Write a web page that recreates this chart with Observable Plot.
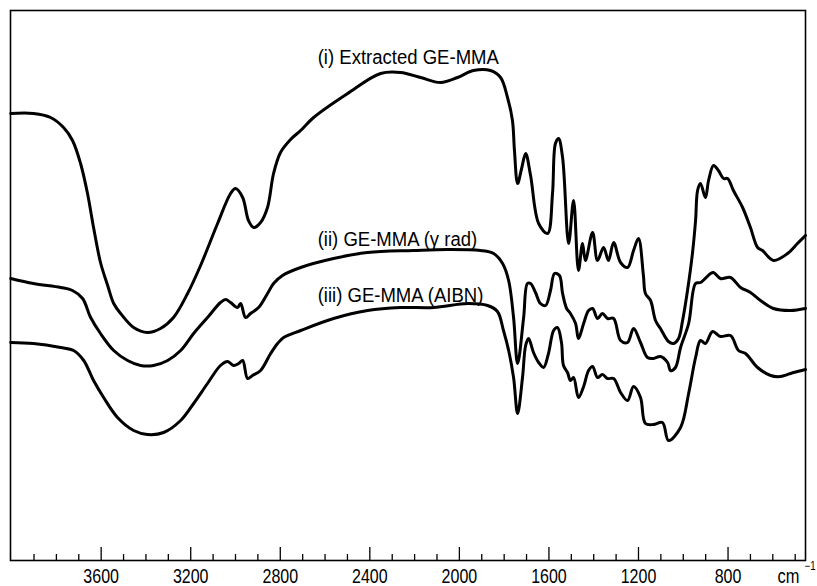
<!DOCTYPE html>
<html><head><meta charset="utf-8">
<script src="https://cdn.jsdelivr.net/npm/d3@7"></script>
<script src="https://cdn.jsdelivr.net/npm/@observablehq/plot@0.6"></script>
<style>
body{margin:0;background:#fff;}
</style></head><body><div id="chart"></div>
<script>
// Wavenumbers (cm^-1) and transmittance (arbitrary units)
const wnI = [4004,3902,3826,3768,3728,3692,3661,3634,3603,3571,3544,3513,3455,3393,3335,3277,3214,3156,3080,3022,3000,2968,2942,2919,2888,2857,2830,2799,2754,2709,2651,2499,2352,2263,2173,2084,2008,1937,1861,1816,1785,1763,1754,1740,1722,1704,1682,1646,1606,1584,1571,1557,1539,1512,1490,1468,1450,1437,1405,1383,1356,1334,1311,1280,1249,1222,1200,1178,1169,1146,1124,1102,1066,1044,1021,1003,981,959,945,936,923,901,887,865,843,820,802,776,735,700,668,646,597,534,490,454];
const tI  = [447,447,443,433,420,397,367,333,298,275,257,247,233,228,232,243,267,295,337,367,372,363,340,333,338,353,387,408,421,430,443,467,487,488,483,478,483,490,490,483,463,440,410,377,392,407,385,337,327,367,417,422,403,317,360,290,317,300,328,300,313,300,318,298,293,310,322,285,267,260,240,232,219,217,222,240,270,307,340,370,377,363,380,395,390,382,382,370,353,333,313,310,300,307,317,325];

const wnII = [4004,3902,3781,3728,3683,3647,3603,3544,3482,3424,3366,3303,3245,3187,3125,3067,3044,3022,2991,2977,2955,2933,2897,2857,2830,2790,2709,2562,2410,2205,2053,1905,1847,1807,1780,1758,1740,1713,1696,1682,1660,1638,1615,1593,1575,1553,1539,1521,1504,1481,1468,1445,1423,1405,1383,1361,1338,1311,1280,1249,1222,1191,1160,1133,1102,1070,1057,1035,1012,976,945,923,878,865,834,789,744,700,655,597,521,454];
const tII  = [282,277,273,270,262,243,227,210,200,195,195,200,210,227,243,258,261,258,253,257,243,247,253,267,277,285,293,302,308,310,311,310,307,297,280,243,197,243,277,277,268,257,255,270,287,285,267,252,247,237,222,237,250,252,242,247,242,242,220,218,232,218,203,202,204,198,190,193,213,237,277,278,287,288,282,283,273,268,260,252,250,252];

const wnIII = [4004,3902,3781,3723,3678,3634,3589,3527,3455,3393,3321,3245,3187,3125,3067,3035,3009,2986,2968,2946,2924,2888,2843,2812,2785,2709,2562,2410,2263,2115,1964,1874,1830,1803,1780,1758,1740,1718,1704,1691,1669,1646,1624,1602,1579,1562,1544,1535,1517,1504,1490,1468,1445,1423,1405,1383,1361,1338,1311,1280,1249,1222,1191,1169,1133,1093,1066,1012,976,945,923,901,869,834,789,753,722,668,610,566,508,454];
const tIII  = [218,217,213,210,200,180,163,143,130,126,128,140,157,177,195,199,195,197,200,182,185,190,207,217,223,230,242,250,253,253,257,255,249,230,210,183,147,183,215,222,208,198,193,207,230,233,218,195,188,180,183,163,174,190,194,183,186,182,182,168,160,174,163,137,136,138,120,133,167,203,220,217,229,224,225,210,207,193,185,184,188,191];

const majorTicks = [3600,3200,2800,2400,2000,1600,1200,800];
const minorTicks = [3900,3800,3700,3500,3400,3300,3100,3000,2900,2700,2600,2500,2300,2200,2100,1900,1800,1700,1500,1400,1300,1100,1000,900,700,600,500];

const labelText = ["(i) Extracted GE-MMA", "(ii) GE-MMA (\u03b3 rad)", "(iii) GE-MMA (AIBN)"];
const labelWn = [2633, 2633, 2633];
const labelT = [503, 321, 265];

const toRows = (wn, t) => wn.map((w, i) => ({wn: w, t: t[i]}));
const series = [toRows(wnI, tI), toRows(wnII, tII), toRows(wnIII, tIII)];
const labels = labelText.map((s, i) => ({text: s, wn: labelWn[i], t: labelT[i]}));

const FONT = '"Liberation Sans", Arial, sans-serif';

const chart = Plot.plot({
  width: 817,
  height: 586,
  marginLeft: 10,
  marginRight: 12,
  marginTop: 10,
  marginBottom: 26,
  style: {background: "#fff", color: "#000", fontFamily: FONT},
  x: {domain: [4005, 454], axis: null},
  y: {domain: [0, 550], axis: null},
  marks: [
    Plot.frame({stroke: "#000", strokeWidth: 1.6}),
    Plot.ruleX(minorTicks, {x: d => d, y1: 0, y2: 6, stroke: "#000", strokeWidth: 1.3}),
    Plot.ruleX(majorTicks, {x: d => d, y1: 0, y2: 13, stroke: "#000", strokeWidth: 1.3}),
    Plot.axisX({ticks: majorTicks, tickSize: 0, tickPadding: 7.8, fontSize: 20, fontFamily: FONT, tickFormat: d => String(d), label: null, className: "tlab"}),
    ...series.map(rows => Plot.line(rows, {x: "wn", y: "t", stroke: "#000", strokeWidth: 3, curve: "catmull-rom", strokeLinejoin: "round", strokeLinecap: "round"})),
    Plot.text(labels, {x: "wn", y: "t", text: "text", textAnchor: "start", lineAnchor: "middle", fontSize: 19.5, fontFamily: FONT, fill: "#000", className: "lbl"}),
    Plot.text(["cm"], {frameAnchor: "bottom-right", text: d => d, textAnchor: "end", lineAnchor: "middle", dx: -6, dy: 16.5, fontSize: 20, fontFamily: FONT, fill: "#000", className: "unit"}),
    Plot.text(["\u22121"], {frameAnchor: "bottom-right", text: d => d, textAnchor: "start", lineAnchor: "middle", dx: -1, dy: 6, fontSize: 12, fontFamily: FONT, fill: "#000", className: "unit2"})
  ]
});
document.getElementById("chart").appendChild(chart);

// condense the lettering like the original's narrow typeface
function squeeze(selector, f) {
  chart.querySelectorAll(selector).forEach(t => {
    const w = t.getComputedTextLength();
    if (w > 0) {
      t.setAttribute("textLength", (w * f).toFixed(1));
      t.setAttribute("lengthAdjust", "spacingAndGlyphs");
    }
  });
}
squeeze(".tlab text", 0.8);
squeeze(".lbl text", 0.95);
squeeze(".unit text", 0.82);
squeeze(".unit2 text", 0.8);
</script>
</body></html>
